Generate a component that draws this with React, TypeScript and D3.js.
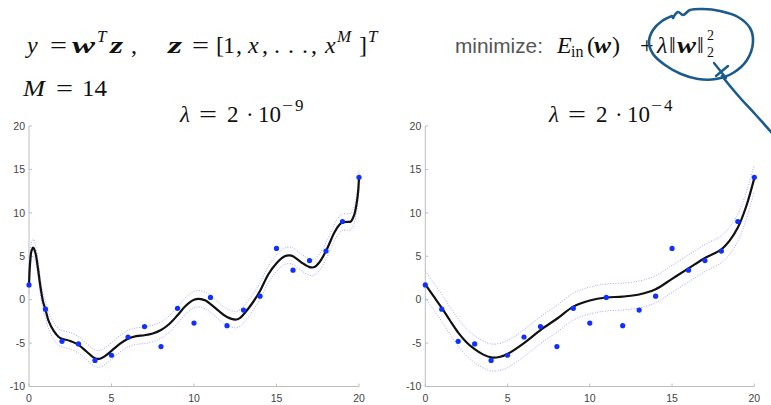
import React from 'react';
import * as d3 from 'd3';

// ---- data ----
const sampleX = [0, 1, 2, 3, 4, 5, 6, 7, 8, 9, 10, 11, 12, 13, 14, 15, 16, 17, 18, 19, 20];
const sampleY = [1.7, -1.1, -4.8, -5.1, -7.0, -6.4, -4.3, -3.1, -5.4, -1.0, -2.7, 0.26, -3.0, -1.2, 0.4, 5.9, 3.4, 4.5, 5.6, 9.0, 14.1];

// fit with lambda = 2e-9
const fitLowX = [0, 0.06, 0.15, 0.26, 0.4, 0.55, 0.7, 0.85, 1.0, 1.2, 1.5, 1.8, 2.0, 2.5, 3.0, 3.5, 4.0, 4.3, 4.6, 5.0, 5.5, 6.0, 6.5, 7.0, 7.5, 8.0, 8.5, 9.0, 9.5, 10.0, 10.3, 10.7, 11.0, 11.5, 12.0, 12.5, 12.8, 13.0, 13.5, 14.0, 14.5, 15.0, 15.5, 15.8, 16.0, 16.5, 17.0, 17.3, 17.6, 18.0, 18.5, 18.8, 19.0, 19.3, 19.5, 19.7, 19.85, 19.95, 20];
const fitLowY = [1.7, 4.1, 5.6, 6.0, 5.3, 3.5, 1.4, -0.2, -1.15, -2.5, -3.6, -4.3, -4.5, -4.75, -5.2, -6.0, -6.75, -6.8, -6.5, -5.9, -5.1, -4.5, -4.2, -4.1, -3.9, -3.5, -2.8, -1.8, -0.7, 0.0, 0.1, -0.1, -0.5, -1.3, -2.0, -2.3, -2.1, -1.7, -0.5, 1.0, 2.9, 4.2, 5.0, 5.1, 5.0, 4.3, 3.75, 3.75, 4.3, 5.6, 7.7, 8.6, 8.9, 8.95, 9.0, 9.7, 11.0, 12.5, 14.1];
const bandLow = 0.95;

// fit with lambda = 2e-4
const fitHighX = [0, 0.5, 1, 1.5, 2, 2.5, 3, 3.5, 4, 4.5, 5, 6, 7, 8, 9, 10, 11, 12, 13, 14, 15, 16, 17, 18, 18.5, 19, 19.5, 20];
const fitHighY = [1.75, 0.4, -0.95, -2.4, -3.8, -4.9, -5.7, -6.3, -6.65, -6.6, -6.25, -5.0, -3.5, -2.2, -0.8, -0.1, 0.25, 0.35, 0.6, 1.2, 2.4, 3.6, 4.8, 5.8, 6.8, 8.3, 10.7, 14.0];
const bandHigh = 1.55;

const xTicks = [0, 5, 10, 15, 20];
const yTicks = [-10, -5, 0, 5, 10, 15, 20];

const lambdaExps = ['9', '4'];

// hand-drawn annotation (pixel path)
const loopPts: [number, number][] = [
  [673, 18], [678, 12], [683, 15], [690, 10], [703, 9], [720, 11], [738, 17], [750, 28], [753, 42],
  [747, 60], [733, 73], [716, 79], [698, 79], [681, 74], [665, 65], [653, 54], [649, 42], [653, 30], [662, 21], [672, 16],
];
const tailPts: [number, number][] = [[722, 76], [730, 86], [742, 100], [755, 114], [771, 132]];

const W = 771;
const H = 405;

const SERIF = '"Liberation Serif", "DejaVu Serif", serif';
const SANS = '"Liberation Sans", Arial, sans-serif';

type TokP = { x: number; y: number; t: string; it?: boolean; b?: boolean; size?: number; len?: number };
function Tok({ x, y, t, it, b, size = 24, len }: TokP) {
  return (
    <text
      x={x}
      y={y}
      fontSize={size}
      fontFamily={SERIF}
      fontStyle={it ? 'italic' : 'normal'}
      fontWeight={b ? 'bold' : 'normal'}
      fill="#111"
      textLength={len}
      lengthAdjust={len ? 'spacingAndGlyphs' : undefined}
    >
      {t}
    </text>
  );
}

function Panel({ x0, x1, fx, fy, band, exp, titleX }: any) {
  const xs = d3.scaleLinear().domain([0, 20]).range([x0, x1]);
  const ys = d3.scaleLinear().domain([-10, 20]).range([386.5, 126]);
  const pts = fx.map((x: number, i: number) => [x, fy[i]] as [number, number]);
  const line = d3
    .line<[number, number]>()
    .x((d) => xs(d[0]))
    .y((d) => ys(d[1]))
    .curve(d3.curveCatmullRom.alpha(0.5));
  const up = pts.map((d: [number, number]) => [d[0], d[1] + band] as [number, number]);
  const dn = pts.map((d: [number, number]) => [d[0], d[1] - band] as [number, number]);
  const axisColor = '#bdbdbd';
  const ty = 122;
  return (
    <g>
      <line x1={x0} x2={x1} y1={ys(-10)} y2={ys(-10)} stroke={axisColor} strokeWidth={1} />
      <line x1={x0} x2={x0} y1={ys(-10)} y2={ys(20)} stroke={axisColor} strokeWidth={1} />
      {yTicks.map((t) => (
        <g key={'y' + t}>
          <line x1={x0} x2={x0 + 3} y1={ys(t)} y2={ys(t)} stroke={axisColor} />
          <text x={x0 - 4} y={ys(t)} dy="0.35em" textAnchor="end" fontSize={10.5} fill="#444" fontFamily={SANS}>
            {t}
          </text>
        </g>
      ))}
      {xTicks.map((t) => (
        <g key={'x' + t}>
          <line x1={xs(t)} x2={xs(t)} y1={ys(-10)} y2={ys(-10) - 3} stroke={axisColor} />
          <text x={xs(t)} y={401.5} textAnchor="middle" fontSize={10.5} fill="#444" fontFamily={SANS}>
            {t}
          </text>
        </g>
      ))}
      <path d={line(up) || ''} fill="none" stroke="#8c8cff" strokeWidth={0.8} strokeDasharray="1,1.6" />
      <path d={line(dn) || ''} fill="none" stroke="#8c8cff" strokeWidth={0.8} strokeDasharray="1,1.6" />
      <path d={line(pts) || ''} fill="none" stroke="#111" strokeWidth={2.2} />
      {sampleX.map((x, i) => (
        <circle key={i} cx={xs(x)} cy={ys(sampleY[i])} r={2.6} fill="#1030ff" />
      ))}
      <Tok x={titleX} y={ty} t="λ" it size={23} />
      <Tok x={titleX + 19} y={ty} t="=" size={23} len={18} />
      <Tok x={titleX + 47} y={ty} t="2" size={23} />
      <Tok x={titleX + 66} y={ty} t="·" size={23} />
      <Tok x={titleX + 78} y={ty} t="10" size={23} />
      <Tok x={titleX + 102} y={ty - 11} t={'\u2212'} size={17} len={11} />
      <Tok x={titleX + 115} y={ty - 11} t={exp} size={17} />
    </g>
  );
}

export default function App() {
  const loop = d3.line().curve(d3.curveCatmullRom.alpha(0.5))(loopPts) || '';
  const tail = d3.line().curve(d3.curveCatmullRom.alpha(0.5))(tailPts) || '';
  const b1 = 53;
  return (
    <svg width={W} height={H} style={{ position: 'absolute', left: 0, top: 0, background: '#fff' }}>
      <rect width={W} height={H} fill="#fff" />
      {/* y = w^T z , */}
      <Tok x={27} y={b1} t="y" it />
      <Tok x={50} y={b1} t="=" len={17} />
      <Tok x={72} y={b1} t="w" it b len={23} />
      <Tok x={97} y={b1 - 11} t="T" it size={17} />
      <Tok x={110} y={b1} t="z" it b len={13} />
      <Tok x={131} y={b1} t="," />
      {/* z = [1, x, ..., x^M]^T */}
      <Tok x={168} y={b1} t="z" it b len={14} />
      <Tok x={192} y={b1} t="=" len={17} />
      <Tok x={216} y={b1} t="[" />
      <Tok x={223} y={b1} t="1" />
      <Tok x={236} y={b1} t="," />
      <Tok x={248} y={b1} t="x" it />
      <Tok x={262} y={b1} t="," />
      <Tok x={274} y={b1} t="." />
      <Tok x={288} y={b1} t="." />
      <Tok x={302} y={b1} t="." />
      <Tok x={311} y={b1} t="," />
      <Tok x={325} y={b1} t="x" it />
      <Tok x={337} y={b1 - 11} t="M" it size={17} />
      <Tok x={359} y={b1} t="]" />
      <Tok x={368} y={b1 - 11} t="T" it size={17} />
      {/* M = 14 */}
      <Tok x={23} y={96} t="M" it len={22} />
      <Tok x={56} y={96} t="=" len={17} />
      <Tok x={82} y={96} t="14" len={25} />
      {/* minimize: E_in(w) + lambda ||w||_2^2 */}
      <text x={455} y={b1} fontSize={21} fontFamily={SANS} fill="#555" textLength={88} lengthAdjust="spacingAndGlyphs">
        minimize:
      </text>
      <Tok x={557} y={b1} t="E" it />
      <Tok x={571} y={b1 + 4} t="in" size={16} />
      <Tok x={587} y={b1} t="(" />
      <Tok x={594} y={b1} t="w" it b len={17} />
      <Tok x={612} y={b1} t=")" />
      <Tok x={640} y={b1} t="+" />
      <Tok x={657} y={b1} t="λ" it />
      <Tok x={669} y={b1} t="‖" />
      <Tok x={677} y={b1} t="w" it b len={19} />
      <Tok x={697} y={b1} t="‖" />
      <Tok x={707} y={40} t="2" size={14} />
      <Tok x={707} y={57} t="2" size={14} />
      {/* annotation */}
      <path d={loop} fill="none" stroke="#1b5a8c" strokeWidth={2.6} strokeLinecap="round" />
      <path d={tail} fill="none" stroke="#1b5a8c" strokeWidth={2.6} strokeLinecap="round" />
      <path d="M714,63 L726,78 M716,76 L728,66" fill="none" stroke="#1b5a8c" strokeWidth={2.4} strokeLinecap="round" />
      <Panel x0={29} x1={359} fx={fitLowX} fy={fitLowY} band={bandLow} exp={lambdaExps[0]} titleX={180} />
      <Panel x0={425.3} x1={754.3} fx={fitHighX} fy={fitHighY} band={bandHigh} exp={lambdaExps[1]} titleX={549} />
    </svg>
  );
}
